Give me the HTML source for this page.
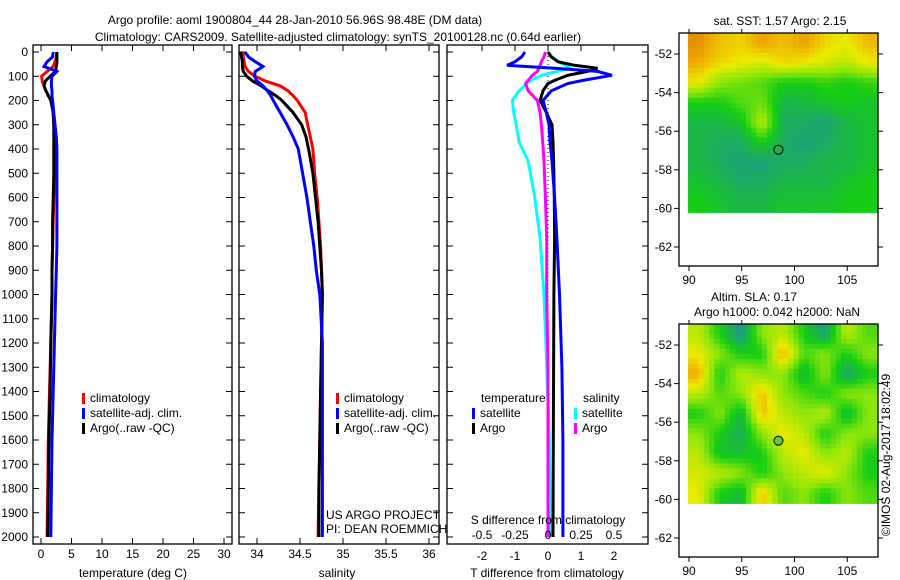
<!DOCTYPE html>
<html><head><meta charset="utf-8"><style>
body{margin:0;background:#fff;width:900px;height:580px;overflow:hidden}
svg{display:block}
text{font-family:"Liberation Sans",sans-serif;font-size:12px;fill:#000}
</style></head><body>
<svg id="fig" width="900" height="580" xmlns="http://www.w3.org/2000/svg">
<text x="295" y="24" text-anchor="middle" font-size="13">Argo profile: aoml 1900804_44 28-Jan-2010 56.96S 98.48E (DM data)</text>
<text x="338" y="41" text-anchor="middle" font-size="13">Climatology: CARS2009. Satellite-adjusted climatology: synTS_20100128.nc (0.64d earlier)</text>
<g id="g"></g>
</svg>
<script>
// ---- data ----
const depths=[0,20,40,60,80,100,120,140,160,180,200,250,300,350,400,500,600,700,800,900,1000,1200,1400,1600,1800,2000];
const tempClim=[2.6,2.5,2.3,2.0,1.0,0.1,0.2,0.5,0.8,1.2,1.7,2.0,2.1,2.2,2.2,2.2,2.1,2.0,1.9,1.8,1.8,1.6,1.4,1.2,1.1,1.0];
const tempSat=[2.0,1.9,1.0,0.5,2.6,1.8,1.7,1.7,1.8,1.8,1.9,2.1,2.3,2.5,2.6,2.6,2.6,2.6,2.6,2.5,2.4,2.2,2.0,1.8,1.7,1.6];
const tempArgo=[2.6,2.6,2.6,2.5,2.4,1.5,0.7,0.5,0.8,1.2,1.6,2.0,2.1,2.1,2.1,2.1,2.0,1.9,1.9,1.8,1.8,1.6,1.5,1.3,1.2,1.1];
const salClim=[33.84,33.84,33.85,33.86,33.9,33.98,34.1,34.27,34.36,34.42,34.47,34.56,34.59,34.62,34.65,34.67,34.70,34.72,34.74,34.75,34.76,34.75,34.74,34.73,34.72,34.71];
const salSat=[33.86,33.9,33.98,34.07,33.98,33.97,34.0,34.07,34.12,34.16,34.19,34.27,34.35,34.42,34.48,34.53,34.58,34.62,34.66,34.69,34.73,34.76,34.76,34.76,34.76,34.76];
const salArgo=[33.81,33.82,33.83,33.83,33.84,33.88,33.95,34.05,34.13,34.22,34.29,34.42,34.52,34.57,34.60,34.65,34.68,34.71,34.73,34.75,34.76,34.75,34.74,34.73,34.72,34.72];
const diffDepths=[0,20,40,55,67,80,96,117,130,160,200,250,300,370,450,600,770,1000,1300,1600,2000];
const tDiffSat=[-0.7,-0.8,-1.0,-1.24,0.2,1.5,1.94,1.06,0.6,0.1,-0.15,-0.05,0.03,0.06,0.12,0.2,0.27,0.35,0.42,0.45,0.45];
const tDiffArgo=[0,0.1,0.3,0.8,1.5,1.2,0.6,0.2,0.0,-0.15,-0.24,-0.05,0.12,0.15,0.17,0.19,0.2,0.18,0.17,0.16,0.15];
const sDiffSat=[0,0.03,0.08,0.13,0.17,0.07,-0.05,-0.13,-0.16,-0.22,-0.27,-0.26,-0.24,-0.22,-0.15,-0.1,-0.06,-0.03,-0.01,0.01,0.02];
const sDiffArgo=[-0.02,-0.03,-0.05,-0.06,-0.07,-0.08,-0.12,-0.15,-0.17,-0.15,-0.08,-0.06,-0.05,-0.04,-0.03,-0.02,-0.01,-0.01,0,0,0];
const depthTicks=[0,100,200,300,400,500,600,700,800,900,1000,1100,1200,1300,1400,1500,1600,1700,1800,1900,2000];
const tempTicks=[0,5,10,15,20,25,30];
const salTicks=[34,34.5,35,35.5,36];
const tDiffTicks=[-2,-1,0,1,2];
const sDiffTicks=[-0.5,-0.25,0,0.25,0.5];
const lonTicks=[90,95,100,105];
const latTicks=[-52,-54,-56,-58,-60,-62];
const sstGrid=[
[0.92,0.8,0.75,0.88,0.8,0.88,0.75,0.7,0.82],
[0.85,0.75,0.7,0.65,0.75,0.7,0.65,0.6,0.7],
[0.7,0.5,0.45,0.4,0.3,0.3,0.35,0.3,0.35],
[0.3,0.3,0.4,0.45,0.2,0.2,0.25,0.3,0.25],
[0.2,0.2,0.25,0.6,0.15,0.15,0.1,0.2,0.25],
[0.2,0.15,0.15,0.3,0.15,0.1,0.15,0.2,0.25],
[0.2,0.15,0.1,0.1,0.15,0.15,0.2,0.2,0.25],
[0.25,0.2,0.15,0.15,0.2,0.2,0.2,0.25,0.3],
[0.3,0.25,0.2,0.2,0.25,0.25,0.25,0.3,0.3]];
const slaGrid=[
[0.6,0.3,0.05,0.5,0.6,0.3,0.1,0.6,0.4],
[0.7,0.5,0.3,0.3,0.85,0.4,0.5,0.3,0.5],
[0.85,0.3,0.6,0.5,0.5,0.2,0.5,0.1,0.3],
[0.6,0.4,0.5,0.8,0.5,0.4,0.3,0.5,0.5],
[0.3,0.5,0.2,0.8,0.6,0.5,0.6,0.2,0.5],
[0.5,0.3,0.15,0.5,0.7,0.6,0.3,0.5,0.5],
[0.6,0.25,0.25,0.3,0.6,0.7,0.5,0.6,0.3],
[0.65,0.6,0.5,0.3,0.5,0.6,0.7,0.5,0.3],
[0.7,0.3,0.2,0.8,0.4,0.5,0.3,0.5,0.4]];
const argoLon=98.48, argoLat=-56.96;

const NS="http://www.w3.org/2000/svg";
const G=document.getElementById('g');
function mk(tag,attrs,parent,txt){const e=document.createElementNS(NS,tag);for(const k in attrs)e.setAttribute(k,attrs[k]);if(txt!==undefined)e.textContent=txt;(parent||G).appendChild(e);return e;}
const yD=d=>52+0.2425*d;
const xT=t=>41+6.1*t;
const xS=s=>257+86*(s-34);
const xDT=t=>548+33*t;
const xDS=s=>548+132*s;

function panel(x0,x1,name){
  const r=mk('rect',{x:x0,y:45,width:x1-x0,height:499,fill:'none',stroke:'#000','stroke-width':1.3});
  
  
  depthTicks.forEach(d=>{
    mk('line',{x1:x0,x2:x0+6,y1:yD(d),y2:yD(d),stroke:'#000'});
    mk('line',{x1:x1-6,x2:x1,y1:yD(d),y2:yD(d),stroke:'#000'});
  });
}
function line(xs,ds,xf,color,name,w){
  const p=xs.map((v,i)=>xf(v).toFixed(1)+','+yD(ds[i]).toFixed(1)).join(' ');
  const e=mk('polyline',{points:p,fill:'none',stroke:color,'stroke-width':w||3,'stroke-linejoin':'miter'});
  
  
}
function xticks(ticks,xf,top,bottom,labY,name){
  const g=mk('g',{});
  
  
  ticks.forEach(t=>{
    if(top!==null)mk('line',{x1:xf(t),x2:xf(t),y1:top,y2:top+6,stroke:'#000'},g);
    if(bottom!==null)mk('line',{x1:xf(t),x2:xf(t),y1:bottom-6,y2:bottom,stroke:'#000'},g);
    mk('text',{x:xf(t),y:labY,'text-anchor':'middle'},g,String(t));
  });
}
// Panel 1
panel(33,232,'temperature-panel');
const yl=mk('g',{});


depthTicks.forEach(d=>mk('text',{x:28,y:yD(d)+4,'text-anchor':'end'},yl,String(d)));
xticks(tempTicks,xT,45,544,558,'temperature-x-ticks');
line(tempClim,depths,xT,'#f00','temp-climatology-line');
line(tempArgo,depths,xT,'#000','temp-argo-line');
line(tempSat,depths,xT,'#00f','temp-satellite-line');
mk('text',{x:133,y:577,'text-anchor':'middle'},null,'temperature (deg C)');
// Panel 2
panel(239,439,'salinity-panel');
xticks(salTicks,xS,45,544,558,'salinity-x-ticks');
line(salClim,depths,xS,'#f00','sal-climatology-line');
line(salArgo,depths,xS,'#000','sal-argo-line');
line(salSat,depths,xS,'#00f','sal-satellite-line');
mk('text',{x:337,y:577,'text-anchor':'middle'},null,'salinity');
mk('text',{x:326,y:519},null,'US ARGO PROJECT');
mk('text',{x:326,y:533},null,'PI: DEAN ROEMMICH');
function legend(x,y,items,name){
  const g=mk('g',{});
  
  
  items.forEach((it,i)=>{
    mk('rect',{x:x,y:y+i*15-9,width:3,height:11,fill:it[0]},g);
    mk('text',{x:x+8,y:y+i*15},g,it[1]);
  });
}
legend(82,402,[['#f00','climatology'],['#00f','satellite-adj. clim.'],['#000','Argo(..raw -QC)']],'temp-legend');
legend(336,402,[['#f00','climatology'],['#00f','satellite-adj. clim.'],['#000','Argo(..raw -QC)']],'sal-legend');
// Panel 3
panel(447,648,'difference-panel');
mk('line',{x1:548,x2:548,y1:52,y2:532,stroke:'#000','stroke-dasharray':'1,3'});
line(sDiffSat,diffDepths,xDS,'#0ff','sdiff-satellite-line');
line(sDiffArgo,diffDepths,xDS,'#f0f','sdiff-argo-line');
line(tDiffArgo,diffDepths,xDT,'#000','tdiff-argo-line');
line(tDiffSat,diffDepths,xDT,'#00f','tdiff-satellite-line');
xticks(tDiffTicks,xDT,45,null,560,'tdiff-x-ticks');
const sg=mk('g',{});


sDiffTicks.forEach(s=>mk('text',{x:xDS(s),y:539,'text-anchor':'middle'},sg,String(s)));
mk('text',{x:548,y:524,'text-anchor':'middle'},null,'S difference from climatology');
mk('text',{x:547,y:577,'text-anchor':'middle'},null,'T difference from climatology');
mk('text',{x:481,y:402},null,'temperature');
mk('text',{x:583,y:402},null,'salinity');
legend(472,417,[['#00f','satellite'],['#000','Argo']],'tdiff-legend');
legend(574,417,[['#0ff','satellite'],['#f0f','Argo']],'sdiff-legend');
// Maps
function col(v){
  const stops=[[0,[20,140,170]],[0.12,[30,165,110]],[0.3,[20,205,20]],[0.5,[140,230,10]],[0.7,[235,235,0]],[0.85,[240,170,0]],[1,[215,115,0]]];
  if(v<=0)return 'rgb(20,140,170)';
  for(let i=1;i<stops.length;i++){if(v<=stops[i][0]){const a=stops[i-1],b=stops[i],f=(v-a[0])/(b[0]-a[0]);return 'rgb('+a[1].map((c,k)=>Math.round(c+(b[1][k]-c)*f)).join(',')+')';}}
  return 'rgb(215,115,0)';
}
function sample(grid,fr,fc){
  const R=grid.length,C=grid[0].length;
  fr=Math.max(0,Math.min(R-1,fr));fc=Math.max(0,Math.min(C-1,fc));
  const r0=Math.floor(fr),c0=Math.floor(fc),r1=Math.min(R-1,r0+1),c1=Math.min(C-1,c0+1),a=fr-r0,b=fc-c0;
  return grid[r0][c0]*(1-a)*(1-b)+grid[r0][c1]*(1-a)*b+grid[r1][c0]*a*(1-b)+grid[r1][c1]*a*b;
}
function map(top,grid,name,dotFill){
  const xL=lon=>689+(lon-90)*10.55;
  const yL=lat=>top+21+(-52-lat)*19.3;
  const g=mk('g',{});
  
  
  const x0=xL(89.9),x1=878,y0=top,y1=yL(-60.2);
  const N=4,R=grid.length*N,C=grid[0].length*N;
  const cw=(x1-x0)/C,ch=(y1-y0)/R;
  for(let r=0;r<R;r++)for(let c=0;c<C;c++){
    const v=sample(grid,(r+0.5)/N-0.5,(c+0.5)/N-0.5);
    const cell=mk('rect',{x:(x0+c*cw).toFixed(1),y:(y0+r*ch).toFixed(1),width:(cw+0.6).toFixed(1),height:(ch+0.6).toFixed(1),fill:col(v)},g);
    
    
  }
  mk('rect',{x:679,y:top,width:199,height:233,fill:'none',stroke:'#000','stroke-width':1.3},g);
  latTicks.forEach(l=>{mk('line',{x1:679,x2:674,y1:yL(l),y2:yL(l),stroke:'#000'},g);mk('line',{x1:878,x2:883,y1:yL(l),y2:yL(l),stroke:'#000'},g);
    mk('text',{x:672,y:yL(l)+4,'text-anchor':'end'},g,String(l));});
  lonTicks.forEach(l=>{mk('line',{x1:xL(l),x2:xL(l),y1:top+233,y2:top+238,stroke:'#000'},g);mk('line',{x1:xL(l),x2:xL(l),y1:top,y2:top-4,stroke:'#000'},g);
    mk('text',{x:xL(l),y:top+251,'text-anchor':'middle'},g,String(l));});
  mk('circle',{cx:xL(argoLon),cy:yL(argoLat),r:4.5,fill:dotFill,stroke:'#000'},g);
}
mk('text',{x:780,y:25,'text-anchor':'middle'},null,'sat. SST: 1.57 Argo: 2.15');
map(33,sstGrid,'sst-map','none');
mk('text',{x:754,y:301,'text-anchor':'middle'},null,'Altim. SLA: 0.17');
mk('text',{x:777,y:316,'text-anchor':'middle'},null,'Argo h1000: 0.042 h2000: NaN');
map(324,slaGrid,'sla-map','#6c3');
mk('text',{x:890,y:455,'text-anchor':'middle',transform:'rotate(-90 890 455)'},null,'©IMOS 02-Aug-2017 18:02:49');
</script>
</body></html>
